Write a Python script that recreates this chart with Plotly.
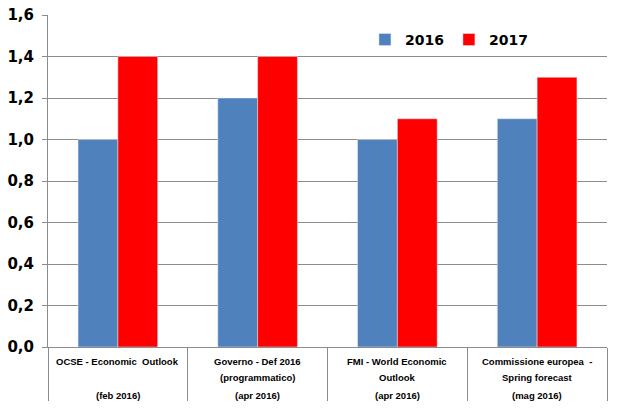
import plotly.graph_objects as go

categories = ["OCSE", "Governo", "FMI", "Commissione"]
label_line1 = ["OCSE - Economic  Outlook", "Governo - Def 2016", "FMI - World Economic", "Commissione europea  -"]
label_line2 = ["", "(programmatico)", "Outlook", "Spring forecast"]
label_line3 = ["(feb 2016)", "(apr 2016)", "(apr 2016)", "(mag 2016)"]
values_2016 = [1.0, 1.2, 1.0, 1.1]
values_2017 = [1.4, 1.4, 1.1, 1.3]
y_ticks = [0.0, 0.2, 0.4, 0.6, 0.8, 1.0, 1.2, 1.4, 1.6]

fig = go.Figure()
fig.add_trace(go.Bar(name="2016", x=categories, y=values_2016, marker_color="#4F81BD"))
fig.add_trace(go.Bar(name="2017", x=categories, y=values_2017, marker_color="#FF0000"))

annotations = []
for rows, ypx in ((label_line1, 361), (label_line2, 377), (label_line3, 395)):
    for c, t in zip(categories, rows):
        if not t:
            continue
        annotations.append(dict(
            x=c, xref="x", y=(347 - ypx) / 332, yref="paper",
            text=t, showarrow=False, xanchor="center", yanchor="middle",
            font=dict(family="Liberation Sans", size=9.5, color="#000000", weight="bold"),
        ))

fig.update_layout(
    width=620, height=420,
    margin=dict(l=48, r=13, t=15, b=73),
    paper_bgcolor="white", plot_bgcolor="white",
    barmode="group", bargap=0.43, bargroupgap=0,
    separators=",.",
    showlegend=True,
    legend=dict(
        orientation="h", x=0.567, y=0.925, xanchor="left", yanchor="middle",
        font=dict(family="DejaVu Sans", size=14, color="#000000", weight="bold"),
        bgcolor="rgba(0,0,0,0)", itemwidth=30, traceorder="normal",
    ),
    annotations=annotations,
    xaxis=dict(
        showticklabels=False, tickson="boundaries", ticks="outside",
        ticklen=53, tickcolor="#8c8c8c", tickwidth=1,
        showline=True, linecolor="#8c8c8c", linewidth=1,
        showgrid=False, zeroline=False, automargin=False,
    ),
    yaxis=dict(
        range=[0, 1.6], tickvals=y_ticks, tickformat=".1f",
        ticks="outside", ticklen=5, tickcolor="#8c8c8c",
        showgrid=True, gridcolor="#8c8c8c", gridwidth=1,
        showline=True, linecolor="#8c8c8c", linewidth=1,
        zeroline=False, ticklabelstandoff=5, automargin=False,
        ticklabeloverflow="allow",
        tickfont=dict(family="DejaVu Sans", size=15, color="#000000", weight="bold"),
    ),
)

fig.write_html("out.html", config={"displayModeBar": False},
               post_script="document.body.style.margin='0';")
